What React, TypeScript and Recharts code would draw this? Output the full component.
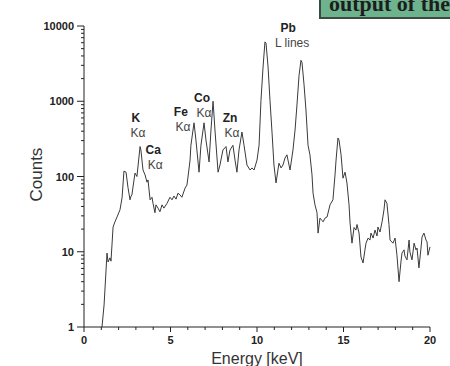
import React from 'react';
import { LineChart, Line, XAxis, YAxis, ReferenceDot } from 'recharts';

// spectrum: energy in keV, counts per channel
const energy = [
  1.04, 1.16, 1.33, 1.39, 1.5, 1.56, 1.68, 1.79, 1.91, 2.08, 2.2, 2.31, 2.43, 2.54, 2.66, 2.72, 2.77, 2.89, 2.95, 3.06,
  3.24, 3.29, 3.41, 3.53, 3.58, 3.64, 3.7, 3.82, 3.93, 3.99, 4.1, 4.16, 4.28, 4.39, 4.51, 4.62, 4.8, 4.97, 5.09, 5.2,
  5.32, 5.43, 5.55, 5.66, 5.84, 5.95, 6.01, 6.13, 6.18, 6.36, 6.47, 6.65, 6.76, 6.94, 7.05, 7.23, 7.34, 7.46, 7.57, 7.75,
  7.86, 8.03, 8.21, 8.32, 8.44, 8.61, 8.73, 8.84, 8.96, 9.13, 9.25, 9.42, 9.6, 9.71, 9.83, 10.0, 10.12, 10.23, 10.35, 10.46,
  10.52, 10.64, 10.75, 10.87, 10.98, 11.1, 11.21, 11.27, 11.39, 11.5, 11.62, 11.73, 11.85, 11.91, 12.08, 12.2, 12.31, 12.43, 12.54, 12.6,
  12.72, 12.83, 12.95, 13.06, 13.18, 13.24, 13.35, 13.47, 13.53, 13.64, 13.76, 13.82, 13.93, 14.05, 14.22, 14.39, 14.51, 14.57, 14.68, 14.74,
  14.86, 14.97, 15.09, 15.2, 15.32, 15.38, 15.49, 15.61, 15.72, 15.78, 15.9, 16.01, 16.13, 16.24, 16.3, 16.42, 16.53, 16.59, 16.71, 16.82,
  16.94, 16.99, 17.11, 17.23, 17.34, 17.4, 17.51, 17.63, 17.69, 17.86, 17.98, 18.09, 18.21, 18.32, 18.38, 18.5, 18.55, 18.67, 18.79, 18.84,
  18.96, 19.08, 19.19, 19.25, 19.36, 19.48, 19.54, 19.65, 19.77, 19.83, 19.88, 20.0,
];
const counts = [
  1, 1.96, 9.6, 7.3, 8.3, 7.5, 21.3, 25, 29, 36, 52, 118, 114, 72, 49, 55, 57, 90, 111, 100,
  250, 225, 122, 105, 95, 84, 90, 49, 53, 44, 33, 42, 38, 34, 42, 38, 44, 53, 49, 55,
  50, 60, 57, 53, 70, 77, 98, 165, 260, 517, 305, 114, 260, 517, 305, 156, 415, 1000, 415, 114,
  142, 225, 250, 156, 225, 260, 165, 114, 225, 390, 260, 142, 122, 130, 122, 165, 260, 1030, 2850, 6150,
  5950, 2850, 1030, 380, 142, 82, 122, 150, 130, 142, 176, 194, 142, 122, 225, 415, 890, 2200, 3500, 3300,
  1650, 765, 260, 194, 105, 60, 42, 33, 17.7, 28, 26, 25, 28, 29, 42, 49, 105, 165, 325, 305,
  194, 95, 114, 82, 42, 24, 13, 21, 19.4, 23, 17.7, 8.5, 7.1, 10.6, 13, 15.2, 14.3, 17.7, 15.2, 19.4,
  16.2, 21.3, 18.3, 25, 36, 49, 44, 23, 14.3, 13, 15.2, 9, 4, 7.3, 9.6, 10.6, 8.8, 7.8, 14.3, 9.9,
  7.8, 13, 10.6, 11.2, 6.1, 11.2, 15.7, 17.7, 14.3, 13.5, 9, 11.6,
];

const xTicks = [0, 1, 2, 3, 4, 5, 6, 7, 8, 9, 10, 11, 12, 13, 14, 15, 16, 17, 18, 19, 20];
const xLabels = [0, 5, 10, 15, 20];
const yMajor = [1, 10, 100, 1000, 10000];
const yMinor = [2, 3, 4, 5, 6, 7, 8, 9];

// element annotations: name, line, anchor energy, anchor counts
const peakNames = ['K', 'Ca', 'Fe', 'Co', 'Zn', 'Pb'];
const peakLines = ['K\u03b1', 'K\u03b1', 'K\u03b1', 'K\u03b1', 'K\u03b1', 'L lines'];
const peakKeV = [3.0, 4.0, 5.6, 6.82, 8.44, 11.8];
const peakCounts = [530, 200, 640, 980, 530, 8300];

const data = energy.map((e, i) => ({ e, c: counts[i] }));

const yTicks: number[] = [];
yMajor.slice(0, 4).forEach((d) => {
  yTicks.push(d);
  yMinor.forEach((m) => yTicks.push(d * m));
});
yTicks.push(10000);

const font = '"Liberation Sans", Arial, sans-serif';

const YTick = (props: any) => {
  const { x, y, payload } = props;
  const v = payload.value;
  const major = yMajor.includes(v);
  return (
    <g>
      <line x1={x - (major ? 7 : 3)} x2={x} y1={y} y2={y} stroke="#222" strokeWidth={1} />
      {major && (
        <text x={x - 10} y={y} dy={4} textAnchor="end" fontFamily={font} fontWeight="bold" fontSize={11} fill="#222">
          {v}
        </text>
      )}
    </g>
  );
};

const XTick = (props: any) => {
  const { x, y, payload } = props;
  const v = payload.value;
  const major = xLabels.includes(v);
  return (
    <g>
      <line x1={x} x2={x} y1={y} y2={y + (major ? 5 : 3)} stroke="#222" strokeWidth={1} />
      {major && (
        <text x={x} y={y + 17} textAnchor="middle" fontFamily={font} fontWeight="bold" fontSize={11} fill="#222">
          {v}
        </text>
      )}
    </g>
  );
};

const PeakLabel = (i: number) => (p: any) => (
  <g fontFamily={font} fontSize={12}>
    <text x={p.cx} y={p.cy} textAnchor="middle" fontWeight="bold" fill="#222">{peakNames[i]}</text>
    <text x={p.cx + (i === 5 ? 4 : 2)} y={p.cy + 15} textAnchor="middle" fill="#444">{peakLines[i]}</text>
  </g>
);

export default function App() {
  return (
    <div style={{ position: 'absolute', left: 0, top: 0, width: 450, height: 366, background: '#fff', overflow: 'hidden' }}>
      <LineChart width={450} height={366} data={data} margin={{ top: 26, right: 20, bottom: 9, left: 34 }}>
        <XAxis
          dataKey="e"
          type="number"
          domain={[0, 20]}
          ticks={xTicks}
          interval={0}
          tick={<XTick />}
          tickLine={false}
          tickSize={0}
          tickMargin={0}
          height={30}
          stroke="#222"
          label={{ value: 'Energy [keV]', position: 'insideBottom', offset: -7, fill: '#333', fontSize: 16, fontFamily: font }}
        />
        <YAxis
          dataKey="c"
          scale="log"
          domain={[1, 10000]}
          ticks={yTicks}
          interval={0}
          tick={<YTick />}
          tickLine={false}
          tickSize={0}
          tickMargin={0}
          width={50}
          stroke="#222"
          allowDataOverflow
          label={{ value: 'Counts', angle: -90, position: 'insideLeft', offset: 2, fill: '#333', fontSize: 17, fontFamily: font, dy: 25 }}
        />
        <Line type="linear" dataKey="c" stroke="#3a3a3a" strokeWidth={1} dot={false} isAnimationActive={false} />
        {peakNames.map((n, i) => (
          <ReferenceDot key={n} x={peakKeV[i]} y={peakCounts[i]} r={0} ifOverflow="visible" shape={PeakLabel(i)} />
        ))}
      </LineChart>
      <div
        style={{
          position: 'absolute',
          left: 319,
          top: -4,
          width: 140,
          height: 23,
          background: '#6db38d',
          border: '2px solid #3c4a40',
          overflow: 'hidden',
          fontFamily: '"Liberation Serif", serif',
          fontWeight: 'bold',
          fontSize: 22,
          lineHeight: '22px',
          color: '#1d1d1d',
          whiteSpace: 'nowrap',
          paddingLeft: 8,
          boxSizing: 'border-box',
        }}
      >
        <div style={{ marginTop: -5 }}>output of the</div>
      </div>
    </div>
  );
}
